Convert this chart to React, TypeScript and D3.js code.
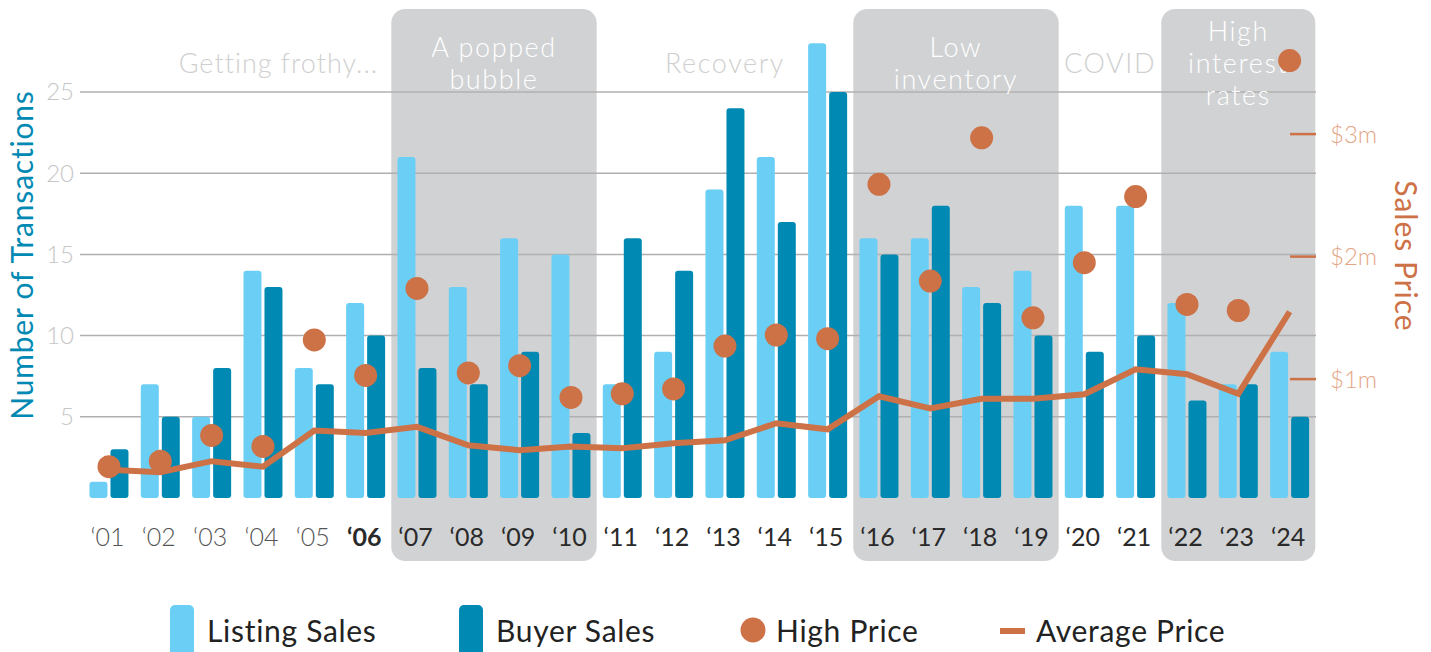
import React from "react";
import * as d3 from "d3";

// ---- Data ----
const years = ["‘01","‘02","‘03","‘04","‘05","‘06","‘07","‘08","‘09","‘10","‘11","‘12","‘13","‘14","‘15","‘16","‘17","‘18","‘19","‘20","‘21","‘22","‘23","‘24"];
const listingSales = [1,7,5,14,8,12,21,13,16,15,7,9,19,21,28,16,16,13,14,18,18,12,7,9];
const buyerSales = [3,5,8,13,7,10,8,7,9,4,16,14,24,17,25,15,18,12,10,9,10,6,7,5];
// prices in $ millions
const highPrice = [0.285,0.33,0.54,0.45,1.32,1.03,1.74,1.05,1.11,0.85,0.88,0.92,1.27,1.36,1.33,2.59,1.80,2.97,1.50,1.95,2.49,1.61,1.56,3.60];
const avgPrice = [0.26,0.24,0.33,0.285,0.58,0.56,0.61,0.46,0.42,0.45,0.435,0.476,0.50,0.64,0.59,0.86,0.76,0.84,0.84,0.876,1.08,1.04,0.88,1.55];
const countTicks = [5,10,15,20,25];
const priceTicks = [1,2,3];
const priceTickLabels = ["$1m","$2m","$3m"];

// shaded periods (index ranges into years)
const shadedStart = [6,15,21];
const shadedEnd = [9,18,23];
const shadedLabels = [["A popped","bubble"],["Low","inventory"],["High","interest","rates"]];
// unshaded period captions (fractional category position)
const openLabels = ["Getting frothy...","Recovery","COVID"];
const openPos = [3.3,12,19.5];

const legendLabels = ["Listing Sales","Buyer Sales","High Price","Average Price"];

// ---- Styles ----
const LIGHT = "#6BCEF5";
const DARK = "#0089B3";
const ORANGE = "#CD7146";
const BOX = "#D1D2D4";
const GRID = "#B0B0B0";
const FONT = "Lato, 'Open Sans', sans-serif";

export default function App() {
  const W = 1431, H = 652;
  const x = d3.scaleBand<string>().domain(years).range([83.3, 1315.3]).paddingInner(0).paddingOuter(0);
  const step = x.step();
  const cx = (i: number) => (x(years[0]) as number) + step / 2 + i * step;
  const y = d3.scaleLinear().domain([0, 25]).range([498, 92]);
  const yP = d3.scaleLinear().domain([0, 3]).range([501.6, 134.1]);
  const barW = 18, gap = 3;

  const line = d3.line<number>().x((_, i) => cx(i)).y(d => yP(d));

  const xAxisWeight = (i: number) => (i < 5 ? 300 : i === 5 ? 700 : 400);
  const xAxisColor = (i: number) => (i < 5 ? "#555" : "#2a2a2a");

  return (
    <svg width={W} height={H} style={{ position: "absolute", left: 0, top: 0, display: "block", background: "#fff" }} fontFamily={FONT}>
      {/* shaded boxes */}
      {shadedStart.map((s, k) => {
        const x0 = x(years[s]) as number;
        const x1 = (x(years[shadedEnd[k]]) as number) + step;
        return <rect key={"box" + k} x={x0} y={9} width={x1 - x0} height={552} rx={14} fill={BOX} />;
      })}
      {/* gridlines */}
      {countTicks.map(t => (
        <line key={"g" + t} x1={80} x2={1316} y1={y(t)} y2={y(t)} stroke={GRID} strokeWidth={1.5} />
      ))}
      {/* left tick labels */}
      {countTicks.map(t => (
        <text key={"lt" + t} x={74} y={y(t)} dy="0.35em" textAnchor="end" fontSize={24} fontWeight={300} fill="#C6C6C6">{t}</text>
      ))}
      {/* right ticks */}
      {priceTicks.map((t, i) => (
        <g key={"rt" + t}>
          <line x1={1290} x2={1316} y1={yP(t)} y2={yP(t)} stroke={ORANGE} strokeWidth={2.5} />
          <text x={1330} y={yP(t)} dy="0.35em" fontSize={24} fontWeight={300} fill="#E4A585">{priceTickLabels[i]}</text>
        </g>
      ))}
      {/* shaded labels */}
      {shadedStart.map((s, k) => {
        const x0 = x(years[s]) as number;
        const x1 = (x(years[shadedEnd[k]]) as number) + step;
        const lines = shadedLabels[k];
        const firstBase = lines.length === 3 ? 41 : 57;
        return (
          <text key={"sl" + k} x={(x0 + x1) / 2} textAnchor="middle" fontSize={27} fontWeight={300} fill="#fff" letterSpacing={1.6}>
            {lines.map((l, j) => (
              <tspan key={j} x={(x0 + x1) / 2} y={firstBase + j * 32}>{l}</tspan>
            ))}
          </text>
        );
      })}
      {/* open labels */}
      {openLabels.map((l, k) => (
        <text key={"ol" + k} x={cx(openPos[k])} y={73} textAnchor="middle" fontSize={27} fontWeight={300} fill="#CFCFCF" letterSpacing={k === 0 ? 1 : 1.6}>{l}</text>
      ))}
      {/* bars */}
      {years.map((yr, i) => (
        <g key={"b" + yr}>
          <rect x={cx(i) - gap / 2 - barW} y={y(listingSales[i])} width={barW} height={y(0) - y(listingSales[i])} rx={3} fill={LIGHT} />
          <rect x={cx(i) + gap / 2} y={y(buyerSales[i])} width={barW} height={y(0) - y(buyerSales[i])} rx={3} fill={DARK} />
        </g>
      ))}
      {/* average price line */}
      <path d={line(avgPrice) as string} fill="none" stroke={ORANGE} strokeWidth={6} strokeLinejoin="miter" />
      {/* high price dots */}
      {highPrice.map((v, i) => (
        <circle key={"d" + i} cx={cx(i)} cy={yP(v)} r={11.5} fill={ORANGE} />
      ))}
      {/* x labels */}
      {years.map((yr, i) => (
        <text key={"xl" + yr} x={cx(i) - 1.5} y={546} textAnchor="middle" fontSize={25} fontWeight={xAxisWeight(i)} fill={xAxisColor(i)}>{yr}</text>
      ))}
      {/* axis titles */}
      <text transform="translate(22,255) rotate(-90)" textAnchor="middle" dy="0.35em" fontSize={30} letterSpacing={0.8} fill={DARK}>Number of Transactions</text>
      <text transform="translate(1405,256) rotate(90)" textAnchor="middle" dy="0.35em" fontSize={30} letterSpacing={1} fill={ORANGE}>Sales Price</text>
      {/* legend */}
      <rect x={170} y={605} width={24} height={60} rx={5} fill={LIGHT} />
      <text x={207} y={642} fontSize={30} letterSpacing={0.7} fill="#222">{legendLabels[0]}</text>
      <rect x={459} y={605} width={24} height={60} rx={5} fill={DARK} />
      <text x={496} y={642} fontSize={30} letterSpacing={0.7} fill="#222">{legendLabels[1]}</text>
      <circle cx={753} cy={630} r={12.5} fill={ORANGE} />
      <text x={776} y={642} fontSize={30} letterSpacing={0.7} fill="#222">{legendLabels[2]}</text>
      <line x1={1000} x2={1025} y1={631} y2={631} stroke={ORANGE} strokeWidth={6} />
      <text x={1036} y={642} fontSize={30} letterSpacing={0.7} fill="#222">{legendLabels[3]}</text>
    </svg>
  );
}
